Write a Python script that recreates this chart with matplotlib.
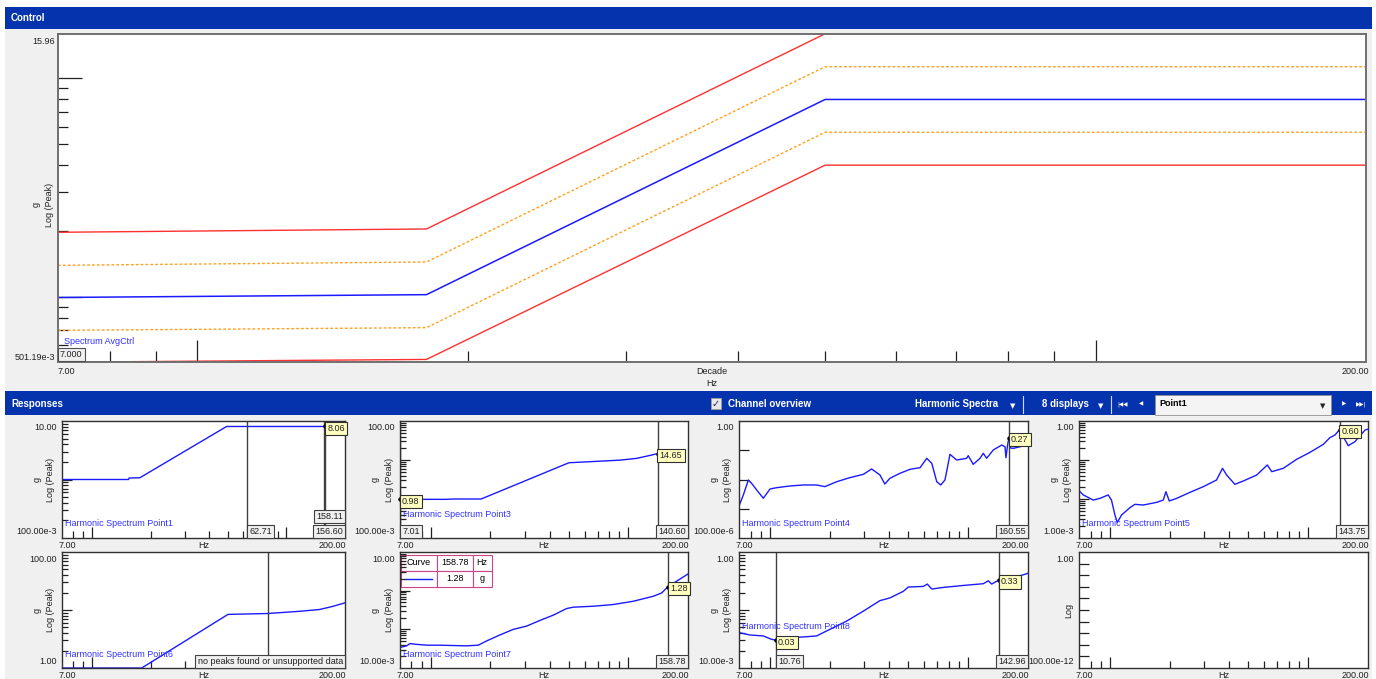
import numpy as np
import matplotlib.pyplot as plt
from matplotlib.patches import Rectangle
from matplotlib.ticker import FixedLocator, NullFormatter

plt.rcParams['font.family'] = ['Liberation Sans', 'DejaVu Sans']
plt.rcParams['font.size'] = 6.5

# control spectrum: reference profile and alarm / abort limits (g peak)
ctrl_freq = [7.0, 18.0, 50.0, 200.0]
ctrl_ref = [0.99, 1.02, 8.0, 8.0]
ctrl_alarm_hi = [1.39, 1.44, 11.3, 11.3]
ctrl_alarm_lo = [0.70, 0.72, 5.66, 5.66]
ctrl_abort_hi = [1.97, 2.04, 16.0, 16.0]
ctrl_abort_lo = [0.50, 0.515, 4.0, 4.0]
ctrl_ylim = (0.50119, 15.96)
ctrl_ylabels = ('501.19e-3', '15.96')
ctrl_cursor = 7.0

# harmonic response spectra
p1_freq = [7.0, 15.4, 15.5, 17.6, 49.2, 158.11]
p1_g = [1.0, 1.0, 1.06, 1.07, 8.06, 8.06]

p3_freq = [7.01, 12.0, 13.0, 18.0, 50.0, 90.0, 110.0, 130.0, 140.60]
p3_g = [0.98, 0.98, 1.0, 1.0, 8.5, 9.9, 11.0, 13.3, 14.65]

p4_freq = [7.03, 7.36, 7.80, 8.10, 8.59, 9.28, 10.03, 10.84, 12.64, 14.75,
           17.22, 18.97, 21.74, 25.35, 29.6, 32.6, 35.9, 38.0, 40.3, 45.3,
           50.9, 57.2, 61.8, 65.5, 69.4, 72.7, 76.3, 78.4, 80.9, 87.4,
           98.1, 100.0, 105.9, 114.6, 119.1, 123.8, 133.7, 147.4, 153.2,
           154.9, 158.0, 160.55, 163.0, 168.5, 182.2, 196.8, 200.0]
p4_g = [1.34e-3, 2.95e-3, 9.6e-3, 7.4e-3, 4.4e-3, 2.28e-3, 4.73e-3, 5.26e-3,
        6.0e-3, 6.5e-3, 6.5e-3, 5.7e-3, 8.4e-3, 0.0116, 0.0150, 0.0229,
        0.0143, 0.0070, 0.0110, 0.0163, 0.0223, 0.0254, 0.053, 0.0357,
        0.0084, 0.0065, 0.0096, 0.0241, 0.0725, 0.0464, 0.053, 0.0653,
        0.033, 0.053, 0.0785, 0.053, 0.102, 0.151, 0.132, 0.0557, 0.16,
        0.27, 0.12, 0.116, 0.132, 0.151, 0.16]

p5_freq = [7.03, 7.36, 8.26, 8.93, 9.82, 10.2, 10.62, 10.91, 11.48, 12.64,
           13.4, 14.75, 17.22, 18.6, 19.19, 19.95, 21.74, 25.35, 29.6, 34.5,
           37.0, 38.8, 42.7, 47.1, 55.0, 62.2, 65.5, 74.8, 87.4, 102.0,
           119.1, 128.6, 136.4, 143.75, 150.1, 159.0, 171.8, 193.3, 200.0]
p5_g = [0.0160, 0.0127, 0.0094, 0.0104, 0.0127, 0.0094, 0.0039, 0.0025,
        0.0039, 0.0060, 0.0073, 0.0070, 0.0082, 0.0094, 0.0154, 0.0089,
        0.0104, 0.0148, 0.0207, 0.0307, 0.0611, 0.0412, 0.0238, 0.029,
        0.0412, 0.0745, 0.0502, 0.0611, 0.104, 0.157, 0.252, 0.374, 0.438,
        0.60, 0.396, 0.233, 0.295, 0.588, 0.62]

p6_freq = [7.0, 18.0, 50.0, 80.0, 117.0, 148.0, 174.0, 200.0]
p6_g = [1.0, 1.0, 8.4, 8.7, 9.5, 10.2, 11.6, 13.3]

p7_freq = [7.0, 7.56, 7.86, 8.34, 9.55, 11.14, 15.2, 17.4, 19.2, 22.4, 26.2,
           30.6, 35.7, 41.7, 48.7, 52.6, 66.4, 83.8, 105.7, 133.5, 147.1,
           158.78, 196.9, 200.0]
p7_g = [0.0339, 0.0374, 0.0429, 0.0412, 0.0389, 0.0389, 0.0374, 0.0389,
        0.0502, 0.0716, 0.1, 0.1216, 0.170, 0.233, 0.345, 0.374, 0.396,
        0.438, 0.532, 0.716, 0.871, 1.28, 2.57, 2.7]

p8_freq = [7.03, 7.94, 9.28, 10.2, 10.76, 11.04, 12.64, 14.75, 17.22, 18.6,
           20.9, 24.4, 29.6, 35.9, 40.3, 47.1, 49.9, 59.4, 62.2, 65.5, 74.8,
           94.4, 119.1, 126.2, 131.2, 142.96, 162.2, 189.4, 200.0]
p8_g = [0.0407, 0.0371, 0.0357, 0.0313, 0.03, 0.0313, 0.0334, 0.0343,
        0.0357, 0.0407, 0.0496, 0.0644, 0.0955, 0.145, 0.1615, 0.21, 0.249,
        0.255, 0.28, 0.230, 0.245, 0.265, 0.284, 0.319, 0.28, 0.33, 0.355,
        0.404, 0.43]

BLUE = '#1a1aff'
DARK = '#303030'
W, H = 1376, 679

fig = plt.figure(figsize=(W / 100, H / 100), dpi=100)
fig.patch.set_facecolor('white')

# window chrome drawn in pixel coordinates
bg = fig.add_axes([0, 0, 1, 1])
bg.set_xlim(0, W)
bg.set_ylim(H, 0)
bg.axis('off')
BAR = '#0433ad'
bg.add_patch(Rectangle((5, 29), 1367, 362, fc='#f0f0f0', ec='none'))
bg.add_patch(Rectangle((5, 415), 1367, 264, fc='#f0f0f0', ec='none'))
bg.add_patch(Rectangle((5, 7), 1367, 22, fc=BAR, ec='none'))
bg.add_patch(Rectangle((5, 391), 1367, 24, fc=BAR, ec='none'))
bg.text(11, 18, 'Control', color='white', fontsize=7, fontweight='bold', va='center')
bg.text(11, 404, 'Responses', color='white', fontsize=7, fontweight='bold', va='center')
bg.add_patch(Rectangle((711, 398), 10, 11, fc='#e8e8e8', ec='#a0a0a0', lw=0.6))
bg.text(716, 403.5, '\u2713', family='DejaVu Sans', fontsize=7, ha='center', va='center', color='#202060')
bg.text(728, 404, 'Channel overview', color='white', fontsize=7, fontweight='bold', va='center')
bg.text(915, 404, 'Harmonic Spectra', color='white', fontsize=7, fontweight='bold', va='center')
bg.text(1013, 406, '\u25bc', family='DejaVu Sans', color='white', fontsize=5, ha='center', va='center')
bg.plot([1023, 1023], [396, 413], color='#d0d8f0', lw=0.8)
bg.text(1042, 404, '8 displays', color='white', fontsize=7, fontweight='bold', va='center')
bg.text(1101, 406, '\u25bc', family='DejaVu Sans', color='white', fontsize=5, ha='center', va='center')
bg.plot([1111, 1111], [396, 413], color='#d0d8f0', lw=0.8)
bg.text(1122, 404, '|\u25c0\u25c0', family='DejaVu Sans', color='white', fontsize=4, ha='center', va='center')
bg.text(1141, 404, '\u25c0', family='DejaVu Sans', color='white', fontsize=4, ha='center', va='center')
bg.add_patch(Rectangle((1155, 395), 176, 20, fc='#f4f4f4', ec='#909090', lw=0.6))
bg.text(1159, 404, 'Point1', color='black', fontsize=6.5, fontweight='bold', va='center')
bg.text(1323, 406, '\u25bc', family='DejaVu Sans', color='#202020', fontsize=5, ha='center', va='center')
bg.text(1344, 404, '\u25b6', family='DejaVu Sans', color='white', fontsize=4, ha='center', va='center')
bg.text(1361, 404, '\u25b6\u25b6|', family='DejaVu Sans', color='white', fontsize=4, ha='center', va='center')


def px_axes(x0, y0, x1, y1):
    return fig.add_axes([x0 / W, 1 - y1 / H, (x1 - x0) / W, (y1 - y0) / H])


def note(ax, fx, fy, dx, dy, s, **kw):
    ax.annotate(s, (fx, fy), xycoords='axes fraction', xytext=(dx, dy),
                textcoords='offset pixels', annotation_clip=False, **kw)


def log_frame(ax, ylim, minor_y=True, xlen=(8, 5), ylen=(7, 4), spine=DARK, sw=1.0):
    ax.set_xscale('log')
    ax.set_yscale('log')
    ax.set_xlim(7, 200)
    ax.set_ylim(*ylim)
    ax.xaxis.set_major_locator(FixedLocator([10, 100]))
    ax.xaxis.set_minor_locator(FixedLocator([8, 9] + list(range(20, 100, 10))))
    lo, hi = np.log10(ylim)
    majors = [10.0 ** e for e in range(int(np.floor(lo)), int(np.ceil(hi)) + 1)
              if ylim[0] * 1.001 < 10.0 ** e < ylim[1] * 0.999]
    minors = []
    if minor_y:
        for e in range(int(np.floor(lo)), int(np.ceil(hi)) + 1):
            for k in range(2, 10):
                v = k * 10.0 ** e
                if ylim[0] < v < ylim[1]:
                    minors.append(v)
    ax.yaxis.set_major_locator(FixedLocator(majors))
    ax.yaxis.set_minor_locator(FixedLocator(minors))
    for axis in (ax.xaxis, ax.yaxis):
        axis.set_major_formatter(NullFormatter())
        axis.set_minor_formatter(NullFormatter())
    ax.tick_params(axis='x', which='major', direction='in', length=xlen[0], width=0.9, color='#202020')
    ax.tick_params(axis='x', which='minor', direction='in', length=xlen[1], width=0.9, color='#202020')
    ax.tick_params(axis='y', which='major', direction='in', length=ylen[0], width=0.9, color='#202020')
    ax.tick_params(axis='y', which='minor', direction='in', length=ylen[1], width=0.9, color='#202020')
    for sp in ax.spines.values():
        sp.set_color(spine)
        sp.set_linewidth(sw)


# ---------------- control chart ----------------
ax = px_axes(58, 34, 1366, 362)
log_frame(ax, ctrl_ylim, xlen=(16, 8), ylen=(17, 7), spine='#707070', sw=1.4)
ax.plot(ctrl_freq, ctrl_abort_hi, color='#ff3030', lw=1.0)
ax.plot(ctrl_freq, ctrl_abort_lo, color='#ff3030', lw=1.0)
ax.plot(ctrl_freq, ctrl_alarm_hi, color='#ffa020', lw=1.0, ls=(0, (2, 1.5)))
ax.plot(ctrl_freq, ctrl_alarm_lo, color='#ffa020', lw=1.0, ls=(0, (2, 1.5)))
ax.plot(ctrl_freq, ctrl_ref, color=BLUE, lw=1.1)
note(ax, 0, 1, -3, -8, ctrl_ylabels[1], ha='right', va='center', color='#202020')
note(ax, 0, 0, -3, 5, ctrl_ylabels[0], ha='right', va='center', color='#202020')
note(ax, 0, 0, 8, -9, '7.00', ha='center', va='center', color='#202020')
note(ax, 1, 0, 3, -9, '200.00', ha='right', va='center', color='#202020')
note(ax, 0.5, 0, 0, -9, 'Decade', ha='center', va='center', color='#202020')
note(ax, 0.5, 0, 0, -22, 'Hz', ha='center', va='center', color='#202020')
note(ax, 0, 0.48, -22, 0, 'g', rotation=90, ha='center', va='center', color='#202020')
note(ax, 0, 0.48, -9, 0, 'Log (Peak)', rotation=90, ha='center', va='center', color='#202020')
note(ax, 0, 0, 6, 21, 'Spectrum AvgCtrl', ha='left', va='center', color='#3030ff')
ax.annotate(f'{ctrl_cursor:.3f}', (ctrl_cursor, 0), xycoords=('data', 'axes fraction'),
            xytext=(2, 3), textcoords='offset pixels', ha='left', va='bottom', color='#202020',
            bbox=dict(boxstyle='square,pad=0.25', fc='#f0f0f0', ec='#505050', lw=0.8))

# ---------------- response panels ----------------
panels = [
    dict(box=(62, 421, 345, 538), ylim=(0.1, 10.0), ylab=('100.00e-3', '10.00'),
         freq=p1_freq, g=p1_g, name='Harmonic Spectrum Point1', name_y=0.12,
         cursors=[62.71, 156.60, 158.11], peaks=[(158.11, 8.06)]),
    dict(box=(400, 421, 688, 538), ylim=(0.1, 100.0), ylab=('100.00e-3', '100.00'),
         freq=p3_freq, g=p3_g, name='Harmonic Spectrum Point3', name_y=0.2,
         cursors=[7.01, 140.60], peaks=[(7.01, 0.98), (140.60, 14.65)]),
    dict(box=(739, 421, 1028, 538), ylim=(1e-4, 1.0), ylab=('100.00e-6', '1.00'), minor=False,
         freq=p4_freq, g=p4_g, name='Harmonic Spectrum Point4', name_y=0.12,
         cursors=[160.55], peaks=[(160.55, 0.27)]),
    dict(box=(1079, 421, 1368, 538), ylim=(1e-3, 1.0), ylab=('1.00e-3', '1.00'),
         freq=p5_freq, g=p5_g, name='Harmonic Spectrum Point5', name_y=0.12,
         cursors=[143.75], peaks=[(143.75, 0.60)]),
    dict(box=(62, 552, 345, 668), ylim=(1.0, 100.0), ylab=('1.00', '100.00'),
         freq=p6_freq, g=p6_g, name='Harmonic Spectrum Point6', name_y=0.12,
         cursors=[80.0], peaks=[], cursor_labels=False,
         message='no peaks found or unsupported data'),
    dict(box=(400, 552, 688, 668), ylim=(0.01, 10.0), ylab=('10.00e-3', '10.00'),
         freq=p7_freq, g=p7_g, name='Harmonic Spectrum Point7', name_y=0.12,
         cursors=[158.78], peaks=[(158.78, 1.28)], legend=True),
    dict(box=(739, 552, 1028, 668), ylim=(0.01, 1.0), ylab=('10.00e-3', '1.00'),
         freq=p8_freq, g=p8_g, name='Harmonic Spectrum Point8', name_y=0.355,
         cursors=[10.76, 142.96], peaks=[(10.76, 0.03), (142.96, 0.33)]),
    dict(box=(1079, 552, 1368, 668), ylim=(1e-10, 1.0), ylab=('100.00e-12', '1.00'), minor=False,
         freq=None, g=None, name=None, cursors=[], peaks=[], ylabel=('Log',)),
]

for p in panels:
    ax = px_axes(*p['box'])
    log_frame(ax, p['ylim'], minor_y=p.get('minor', True))
    if p['freq'] is not None:
        ax.plot(p['freq'], p['g'], color=BLUE, lw=1.0)

    note(ax, 0, 1, -5, -7, p['ylab'][1], ha='right', va='center', color='#202020')
    note(ax, 0, 0, -5, 6, p['ylab'][0], ha='right', va='center', color='#202020')
    note(ax, 0, 0, 5, -7, '7.00', ha='center', va='center', color='#202020')
    note(ax, 0.5, 0, 0, -7, 'Hz', ha='center', va='center', color='#202020')
    note(ax, 1, 0, 1, -7, '200.00', ha='right', va='center', color='#202020')
    ylabel = p.get('ylabel', ('g', 'Log (Peak)'))
    if len(ylabel) == 2:
        note(ax, 0, 0.5, -25, 0, ylabel[0], rotation=90, ha='center', va='center', color='#202020')
        note(ax, 0, 0.5, -11, 0, ylabel[1], rotation=90, ha='center', va='center', color='#202020')
    else:
        note(ax, 0, 0.5, -10, 0, ylabel[0], rotation=90, ha='center', va='center', color='#202020')
    if p['name']:
        note(ax, 0, p['name_y'], 3, 0, p['name'], ha='left', va='center', color='#3333ff')

    # cursor lines and their frequency read-outs
    stacked = 0
    for c in p['cursors']:
        ax.axvline(c, color='#404040', lw=1.0)
        if not p.get('cursor_labels', True):
            continue
        frac = np.log10(c / 7) / np.log10(200 / 7)
        gray = dict(boxstyle='square,pad=0.25', fc='#f0f0f0', ec='#404040', lw=0.8)
        if frac > 0.85:
            note(ax, 1, 0, -2, 2 + 15 * stacked, f'{c:.2f}', ha='right', va='bottom',
                 color='#202020', bbox=gray)
            stacked += 1
        else:
            ax.annotate(f'{c:.2f}', (c, 0), xycoords=('data', 'axes fraction'),
                        xytext=(2, 2), textcoords='offset pixels', ha='left', va='bottom',
                        color='#202020', bbox=gray)

    # peak value read-outs
    for f, v in p['peaks']:
        ax.plot([f], [v], 'o', ms=2.2, color='black', clip_on=False)
        ax.annotate(f'{v:.2f}', (f, v), xytext=(2, -2), textcoords='offset pixels',
                    ha='left', va='center', color='#202020', annotation_clip=False,
                    bbox=dict(boxstyle='square,pad=0.25', fc='#ffffc0', ec='#303030', lw=0.8))

    if p.get('message'):
        note(ax, 1, 0, -2, 2, p['message'], ha='right', va='bottom', color='#202020',
             bbox=dict(boxstyle='square,pad=0.25', fc='#f0f0f0', ec='#404040', lw=0.8))

    if p.get('legend'):
        f, v = p['peaks'][0]
        tbl = ax.table(cellText=[['Curve', f'{f:.2f}', 'Hz'], ['', f'{v:.2f}', 'g']],
                       colWidths=[0.37, 0.37, 0.2], cellLoc='center',
                       bbox=[0.004, 0.70, 0.315, 0.275])
        tbl.auto_set_font_size(False)
        tbl.set_fontsize(6.5)
        for cell in tbl.get_celld().values():
            cell.set_edgecolor('#cc4488')
            cell.set_linewidth(0.8)
            cell.set_facecolor('white')
        ax.plot([0.02, 0.11], [0.765, 0.765], transform=ax.transAxes, color=BLUE, lw=1.0)

fig.savefig('out.png', dpi=100, facecolor=fig.get_facecolor())
